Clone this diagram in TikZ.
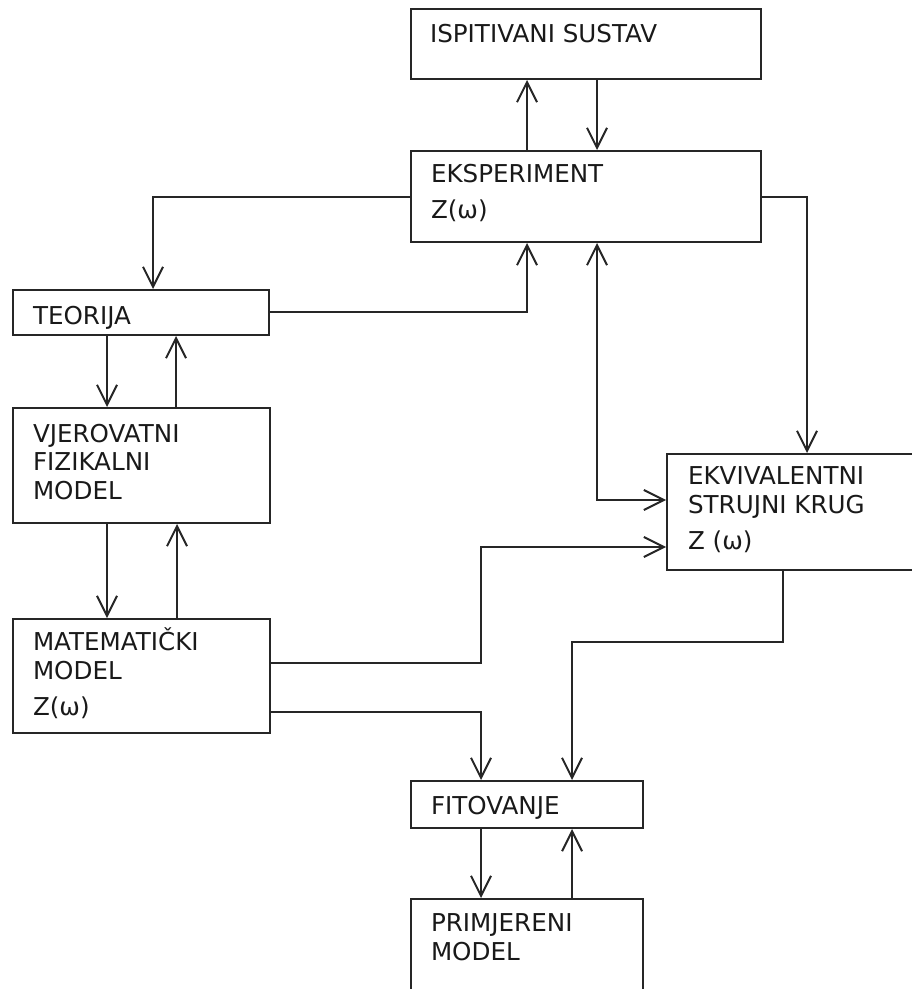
\documentclass[tikz,border=0pt]{standalone}
\usepackage{fontspec}
\setmainfont{DejaVu Sans}
\usetikzlibrary{arrows.meta}
\usetikzlibrary{calc}

\begin{document}
\begin{tikzpicture}[x=0.5pt, y=-0.5pt, line width=1pt, draw=black!85,
  >={Straight Barb[length=10pt, width=10pt]},
  box/.style={draw, rectangle, anchor=north west, inner sep=0pt},
  txt/.style={anchor=north west, align=left, inner sep=0pt, text=black!90,
    font=\fontsize{12.3}{14.25}\selectfont,
    execute at begin node={\rule{0pt}{12pt}}}]
\useasboundingbox (0,0) rectangle (911,989);
% blokovi
\node[box, minimum width=175pt, minimum height=35pt] (isp) at (410,8) {};
\node[box, minimum width=175pt, minimum height=45.5pt] (eks) at (410,150) {};
\node[box, minimum width=128pt, minimum height=22.5pt] (teo) at (12,289) {};
\node[box, minimum width=128.5pt, minimum height=57.5pt] (vje) at (12,407) {};
\node[box, minimum width=128.5pt, minimum height=57pt] (mat) at (12,618) {};
\node[box, minimum width=130pt, minimum height=58pt] (ekv) at (666,453) {};
\node[box, minimum width=116pt, minimum height=23.5pt] (fit) at (410,780) {};
\node[box, minimum width=116pt, minimum height=55pt] (pri) at (410,898) {};
% tekstovi
\node[txt] (ispt) at ($(isp.north west)+(19,10)$) {ISPITIVANI SUSTAV};
\node[txt] (ekst) at ($(eks.north west)+(20,13)$) {EKSPERIMENT\\[4pt]Z(ω)};
\node[txt] (teot) at ($(teo.north west)+(20,10)$) {TEORIJA};
\node[txt] (vjet) at ($(vje.north west)+(20,16)$) {VJEROVATNI\\FIZIKALNI\\MODEL};
\node[txt] (matt) at ($(mat.north west)+(20,9)$) {MATEMATIČKI\\MODEL\\[4pt]Z(ω)};
\node[txt] (ekvt) at ($(ekv.north west)+(21,13)$) {EKVIVALENTNI\\STRUJNI KRUG\\[4pt]Z (ω)};
\node[txt] (fitt) at ($(fit.north west)+(20,9)$) {FITOVANJE};
\node[txt] (prit) at ($(pri.north west)+(20,15)$) {PRIMJERENI\\MODEL};
% veze
\draw[->] ($(eks.north west)+(117,0)$) -- ($(isp.south west)+(117,0)$);
\draw[->] ($(isp.south west)+(187,0)$) -- ($(eks.north west)+(187,0)$);
\draw[->] ($(eks.north west)+(0,47)$) -| ($(teo.north west)+(141,0)$);
\draw[->] (teo.east) -| ($(eks.south west)+(117,0)$);
\draw[->] ($(teo.south west)+(95,0)$) -- ($(vje.north west)+(95,0)$);
\draw[->] ($(vje.north west)+(164,0)$) -- ($(teo.south west)+(164,0)$);
\draw[->] ($(vje.south west)+(95,0)$) -- ($(mat.north west)+(95,0)$);
\draw[->] ($(mat.north west)+(165,0)$) -- ($(vje.south west)+(165,0)$);
\draw[<->] ($(eks.south west)+(187,0)$) |- ($(ekv.north west)+(0,47)$);
\draw[->] ($(eks.north east)+(0,47)$) -| ($(ekv.north west)+(141,0)$);
\draw[->] ($(mat.north east)+(0,45)$) -| ($(ekv.north west)+(-185,94)$) -- ($(ekv.north west)+(0,94)$);
\draw[->] ($(mat.north east)+(0,94)$) -| ($(fit.north west)+(71,0)$);
\draw[->] ($(ekv.south west)+(117,0)$) -- ++(0,71) -| ($(fit.north west)+(162,0)$);
\draw[->] ($(fit.south west)+(71,0)$) -- ($(pri.north west)+(71,0)$);
\draw[->] ($(pri.north west)+(162,0)$) -- ($(fit.south west)+(162,0)$);
\end{tikzpicture}
\end{document}
